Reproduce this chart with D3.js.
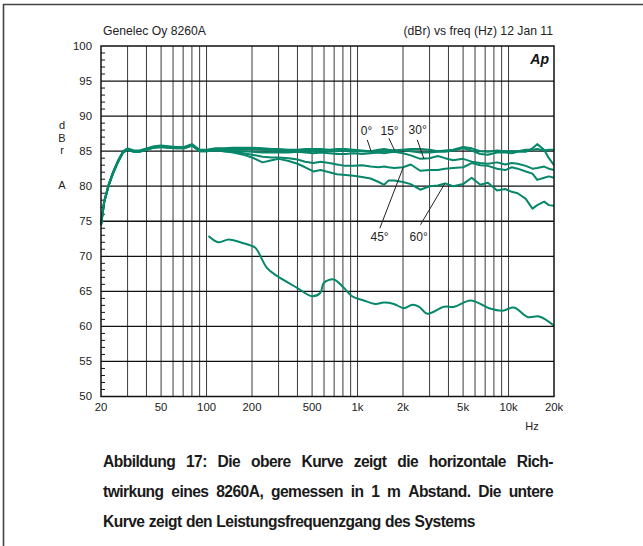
<!DOCTYPE html>
<html>
<head>
<meta charset="utf-8">
<script src="https://cdn.jsdelivr.net/npm/d3@7"></script>
<style>
  html, body { margin: 0; padding: 0; background: #fff; }
  svg { display: block; font-family: "Liberation Sans", Arial, Helvetica, sans-serif; }
</style>
</head>
<body>
<svg id="chart" width="643" height="546"></svg>
<script>
// Frequency points (Hz) shared by the five off-axis response curves
const freqs = [20, 21, 22.5, 24, 26, 28, 30, 33, 36, 40, 45, 50, 56, 63, 71, 80, 90, 100, 115,
  130, 150, 175, 200, 235, 270, 300, 350, 400, 450, 510, 570, 650, 730, 830, 940, 1070, 1220,
  1380, 1500, 1600, 1750, 2000, 2250, 2600, 3000, 3400, 3800, 4300, 5000, 5700, 6500, 7300,
  8400, 9500, 10500, 11500, 13000, 14400, 15500, 17200, 18500, 20000];

// Level (dBr) at 0°, 15°, 30°, 45° and 60° off axis
const deg0 = [74.6, 77.9, 80.3, 82.0, 83.7, 85.0, 85.4, 85.1, 85.1, 85.4, 85.7, 85.8, 85.7, 85.6, 85.6, 86.0, 85.2, 85.2, 85.4,
  85.4, 85.5, 85.5, 85.5, 85.4, 85.3, 85.3, 85.2, 85.2, 85.3, 85.3, 85.3, 85.2, 85.3, 85.3, 85.2, 85.1, 85.0,
  85.2, 85.3, 85.2, 85.1, 85.2, 85.3, 85.3, 85.2, 85.0, 85.1, 85.2, 85.6, 85.4, 85.0, 84.9,
  85.1, 85.0, 85.0, 85.0, 85.2, 85.2, 85.3, 85.1, 85.2, 85.2];
const deg15 = [74.5, 77.8, 80.2, 81.9, 83.6, 84.9, 85.3, 85.0, 85.0, 85.3, 85.6, 85.7, 85.6, 85.5, 85.5, 85.9, 85.1, 85.1, 85.3,
  85.3, 85.3, 85.3, 85.3, 85.2, 85.1, 85.1, 85.0, 85.0, 85.1, 85.0, 85.1, 85.0, 85.0, 85.1, 85.0, 85.0, 84.9,
  85.0, 85.0, 85.0, 85.1, 85.2, 85.0, 84.8, 84.8, 84.9, 84.9, 85.1, 85.4, 85.1, 84.6, 84.5,
  84.8, 84.8, 84.7, 84.9, 84.9, 85.4, 86.0, 85.2, 84.0, 83.0];
const deg30 = [74.4, 77.7, 80.1, 81.8, 83.5, 84.8, 85.2, 84.9, 84.9, 85.2, 85.5, 85.6, 85.5, 85.4, 85.4, 85.8, 85.0, 85.0, 85.2,
  85.1, 85.1, 85.0, 84.9, 84.8, 84.8, 84.8, 84.8, 84.9, 84.8, 84.7, 84.8, 84.7, 84.6, 84.6, 84.7, 84.6, 84.7,
  84.8, 84.7, 84.8, 84.9, 84.7, 84.4, 83.9, 84.0, 84.3, 84.0, 83.7, 83.9, 83.5, 83.3, 83.2,
  83.4, 83.1, 83.3, 83.2, 82.9, 82.5, 82.6, 82.8, 82.5, 82.3];
const deg45 = [74.5, 77.8, 80.2, 81.9, 83.6, 84.9, 85.3, 85.0, 85.0, 85.3, 85.6, 85.7, 85.6, 85.5, 85.5, 85.9, 85.1, 85.1, 85.2,
  85.0, 84.9, 84.7, 84.5, 84.2, 84.1, 84.1, 84.0, 83.8, 83.5, 83.3, 83.5, 83.3, 83.1, 82.9, 82.9, 83.0, 82.8,
  82.7, 82.8, 82.7, 82.6, 82.7, 83.1, 82.2, 82.3, 82.3, 82.5, 82.6, 82.7, 83.3, 83.0, 82.9,
  82.5, 82.3, 82.7, 82.5, 82.1, 81.8, 80.9, 81.2, 81.4, 81.2];
const deg60 = [74.4, 77.7, 80.1, 81.8, 83.5, 84.8, 85.2, 84.9, 84.9, 85.2, 85.5, 85.6, 85.5, 85.4, 85.4, 85.8, 85.0, 85.0, 85.1,
  85.0, 84.8, 84.5, 84.1, 83.4, 83.7, 83.9, 83.6, 83.2, 82.7, 82.1, 82.3, 82.0, 81.7, 81.6, 81.5, 81.3, 81.1,
  80.6, 80.2, 80.8, 80.8, 80.6, 80.3, 79.5, 80.0, 80.1, 80.4, 80.0, 80.3, 81.2, 80.2, 80.5,
  79.4, 79.6, 79.2, 79.0, 78.2, 76.8, 77.3, 77.8, 77.3, 77.2];

// Power response of the system
const powerFreqs = [103, 120, 140, 167, 195, 211, 252, 293, 398, 500, 568, 597, 696, 811, 921, 1100,
  1316, 1493, 1742, 2028, 2306, 2560, 2900, 3737, 4370, 5622, 7430, 9120, 10880, 13360, 15960, 20000];
const powerDb = [72.9, 72.0, 72.4, 72.0, 71.55, 71.2, 68.3, 67.2, 65.5, 64.3, 64.8, 66.2, 66.7, 65.5, 64.3, 63.7,
  63.2, 63.4, 63.2, 62.6, 63.1, 62.8, 61.8, 62.8, 62.8, 63.7, 62.6, 62.25, 62.7, 61.35, 61.4, 60.1];

// Curve labels: text anchor and leader line (frequency in Hz, level in dBr)
const angleLabels = ["0°", "15°", "30°", "45°", "60°"];
const labelAt = [[1147, 87.9], [1630, 87.95], [2500, 88.0], [1399, 72.8], [2539, 72.8]];
const leaderFrom = [[1160, 86.6], [1613, 86.85], [2488, 86.6], [1405, 74.0], [2612, 74.5]];
const leaderTo = [[1230, 84.95], [1759, 85.1], [2753, 83.9], [2008, 82.7], [3776, 80.35]];

// Axis ticks
const xTickVals = [20, 50, 100, 200, 500, 1000, 2000, 5000, 10000, 20000];
const xTickLabels = ["20", "50", "100", "200", "500", "1k", "2k", "5k", "10k", "20k"];
const yTickVals = [50, 55, 60, 65, 70, 75, 80, 85, 90, 95, 100];
const yTitleLetters = ["d", "B", "r", "A"];

const header = "Genelec Oy 8260A";
const headerRight = "(dBr) vs freq (Hz) 12 Jan 11";
const captionLines = [
  "Abbildung 17: Die obere Kurve zeigt die horizontale Rich-",
  "twirkung eines 8260A, gemessen in 1 m Abstand. Die untere",
  "Kurve zeigt den Leistungsfrequenzgang des Systems"
];

const green = "#06876a";
const ink = "#222";

const svg = d3.select("#chart");

const x = d3.scaleLog().domain([20, 20000]).range([101, 554]);
const y = d3.scaleLinear().domain([50, 100]).range([396.5, 46]);

// outer frame of the figure
svg.append("path")
  .attr("d", "M3.5,546V4.5H643")
  .attr("fill", "none").attr("stroke", "#444").attr("stroke-width", 1.6);

// header texts
svg.append("text").attr("x", 103).attr("y", 35)
  .attr("font-size", 12.2).attr("fill", ink).text(header);
svg.append("text").attr("x", 553).attr("y", 35).attr("text-anchor", "end")
  .attr("font-size", 12.2).attr("fill", ink).text(headerRight);

// vertical grid (1-2-...-9 per decade)
const gridFreqs = x.ticks().filter(f => f > 20 && f < 20000);
svg.append("g").selectAll("line").data(gridFreqs).join("line")
  .attr("x1", d => x(d)).attr("x2", d => x(d))
  .attr("y1", y(100)).attr("y2", y(50))
  .attr("stroke", "#3a3a3a").attr("stroke-width", 1);

// horizontal grid every 5 dB
svg.append("g").selectAll("line").data(yTickVals.filter(v => v > 50 && v < 100)).join("line")
  .attr("x1", x(20)).attr("x2", x(20000))
  .attr("y1", d => y(d)).attr("y2", d => y(d))
  .attr("stroke", "#111").attr("stroke-width", 1.3);

// minor ticks on the level axis (1 dB)
svg.append("g").selectAll("line").data(d3.range(51, 100).filter(v => v % 5 !== 0)).join("line")
  .attr("x1", x(20)).attr("x2", x(20) + 4)
  .attr("y1", d => y(d)).attr("y2", d => y(d))
  .attr("stroke", "#111").attr("stroke-width", 1);

// level labels
svg.append("g").selectAll("text").data(yTickVals).join("text")
  .attr("x", 92).attr("y", d => y(d)).attr("dy", "0.35em")
  .attr("text-anchor", "end").attr("font-size", 11.4).attr("fill", ink)
  .text(d => d);

// frequency labels
svg.append("g").selectAll("text").data(xTickVals).join("text")
  .attr("x", d => x(d)).attr("y", 411)
  .attr("text-anchor", "middle").attr("font-size", 11.3).attr("fill", ink)
  .text((d, i) => xTickLabels[i]);
svg.append("text").attr("x", 532).attr("y", 430).attr("text-anchor", "middle")
  .attr("font-size", 11).attr("fill", ink).text("Hz");

// stacked axis title
const titleY = [129, 141.5, 154, 189];
svg.append("g").selectAll("text").data(yTitleLetters).join("text")
  .attr("x", 62).attr("y", (d, i) => titleY[i])
  .attr("text-anchor", "middle").attr("font-size", 11).attr("fill", ink)
  .text(d => d);

// response curves
const line = d3.line().x(d => x(d[0])).y(d => y(d[1]));
const series = [deg60, deg45, deg30, deg15, deg0];
svg.append("g").selectAll("path").data(series).join("path")
  .attr("d", s => line(freqs.map((f, i) => [f, s[i]])))
  .attr("fill", "none").attr("stroke", green).attr("stroke-width", 2)
  .attr("stroke-linejoin", "round");

const smooth = d3.line().x(d => x(d[0])).y(d => y(d[1])).curve(d3.curveCatmullRom.alpha(0.5));
svg.append("path")
  .attr("d", smooth(powerFreqs.map((f, i) => [f, powerDb[i]])))
  .attr("fill", "none").attr("stroke", green).attr("stroke-width", 2);

// plot frame
svg.append("rect")
  .attr("x", x(20)).attr("y", y(100))
  .attr("width", x(20000) - x(20)).attr("height", y(50) - y(100))
  .attr("fill", "none").attr("stroke", "#111").attr("stroke-width", 1.5);

// Audio Precision mark
svg.append("text").attr("x", 549).attr("y", 64).attr("text-anchor", "end")
  .attr("font-size", 14).attr("font-weight", "bold").attr("font-style", "italic")
  .attr("fill", "#111").text("Ap");

// angle labels with leaders
const ann = svg.append("g");
angleLabels.forEach((lab, i) => {
  ann.append("line")
    .attr("x1", x(leaderFrom[i][0])).attr("y1", y(leaderFrom[i][1]))
    .attr("x2", x(leaderTo[i][0])).attr("y2", y(leaderTo[i][1]))
    .attr("stroke", "#222").attr("stroke-width", 1);
  ann.append("text")
    .attr("x", x(labelAt[i][0])).attr("y", y(labelAt[i][1])).attr("dy", "0.35em")
    .attr("text-anchor", "middle").attr("font-size", 12).attr("fill", ink)
    .text(lab);
});

// caption, justified across the plot width
const capSize = 15.6;
const cap = svg.append("g").attr("font-size", capSize).attr("font-weight", "bold")
  .attr("letter-spacing", -0.55).attr("fill", "#1a1a1a");
const capLeft = 103, capRight = 553, capBase = [466.5, 496.5, 526.5];
captionLines.forEach((txt, li) => {
  const words = txt.split(" ");
  const nodes = words.map(w => cap.append("text").attr("y", capBase[li]).text(w));
  const widths = nodes.map(n => n.node().getComputedTextLength());
  const total = d3.sum(widths);
  const justify = li < captionLines.length - 1;
  const gap = justify ? (capRight - capLeft - total) / (words.length - 1) : capSize * 0.278;
  let cx = capLeft;
  nodes.forEach((n, k) => { n.attr("x", cx); cx += widths[k] + gap; });
});
</script>
</body>
</html>
